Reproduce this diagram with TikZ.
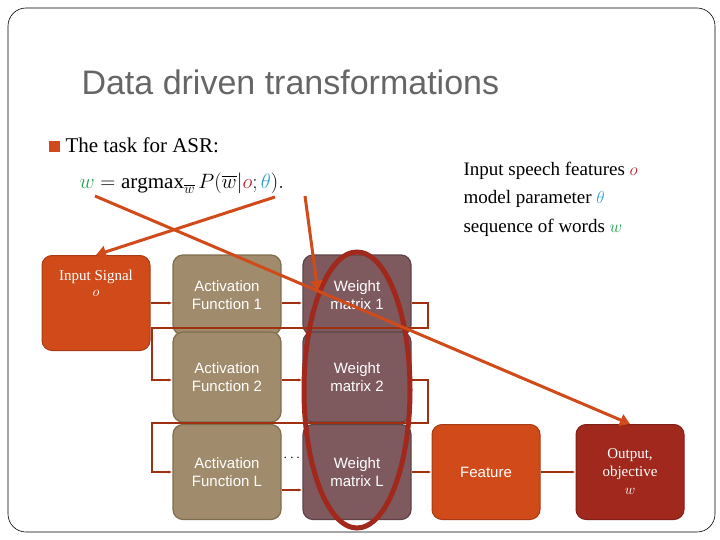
\documentclass[tikz,border=0pt]{standalone}
\usepackage{amsmath}
\usepackage{fontspec}
\setmainfont{Liberation Serif}
\setsansfont{Liberation Sans}
\usetikzlibrary{arrows.meta,shapes.geometric}
\definecolor{orng}{HTML}{D04A1A}
\definecolor{tan}{HTML}{A08C6C}
\definecolor{tanb}{HTML}{7F6D50}
\definecolor{plum}{HTML}{7E5A5E}
\definecolor{plumb}{HTML}{5E4246}
\definecolor{outc}{HTML}{A0281C}
\definecolor{lnk}{HTML}{A03010}
\definecolor{gw}{HTML}{20A050}
\definecolor{ro}{HTML}{C0202A}
\definecolor{bt}{HTML}{30A0D0}
\tikzset{
 box/.style={rounded corners=10pt,minimum width=108pt,align=center,text=white,font=\sffamily\fontsize{15}{18}\selectfont},
 afbox/.style={box,fill=tan,draw=tanb,line width=1.2pt},
 wbox/.style={box,fill=plum,draw=plumb,line width=1.2pt},
 obox/.style={box,fill=orng,draw=orng!80!black,line width=1pt,minimum height=95pt},
 link/.style={draw=lnk,line width=1.2pt,-{Latex[length=4pt]}},
 big/.style={draw=orng,line width=3pt,-{Triangle[length=10pt,width=12pt]}},
}
\begin{document}
\begin{tikzpicture}[x=1pt,y=-1pt]
\useasboundingbox (0,0) rectangle (720,540);
\draw[black,line width=0.6pt,rounded corners=18pt] (8,8) rectangle (715,532);
\node[anchor=west,text=black!60,font=\sffamily\fontsize{34}{38}\selectfont] (title) at (78,82) {Data driven transformations};
\node[fill=orng,minimum size=11pt,inner sep=0pt] (bul) at (54,147) {};
\node[anchor=west,font=\fontsize{21}{24}\selectfont] (task) at (62,145) {The task for ASR:};
\node[anchor=west,font=\fontsize{21}{24}\selectfont] (eq) at (76,183) {$\textcolor{gw}{w} = \operatorname*{argmax}_{\overline{w}} P(\overline{w}|\textcolor{ro}{o};\textcolor{bt}{\theta}).$};
\node[anchor=west,align=left,font=\fontsize{19}{28.5}\selectfont] (legend) at (460,199) {Input speech features $\textcolor{ro}{o}$\\model parameter $\textcolor{bt}{\theta}$\\sequence of words $\textcolor{gw}{w}$};
\node[obox,font=\fontsize{15}{16}\selectfont,anchor=north,text depth=40pt] (in) at (96,255) {Input Signal\\$o$};
\node[afbox,minimum height=80pt] (a1) at (227,295) {Activation\\Function 1};
\node[afbox,minimum height=90pt] (a2) at (227,377) {Activation\\Function 2};
\node[afbox,minimum height=95pt] (a3) at (227,472) {Activation\\Function L};
\node[wbox,minimum height=80pt] (w1) at (357,295) {Weight\\matrix 1};
\node[wbox,minimum height=90pt] (w2) at (357,377) {Weight\\matrix 2};
\node[wbox,minimum height=95pt] (w3) at (357,472) {Weight\\matrix L};
\node[obox] (feat) at (486,472) {Feature};
\node[obox,fill=outc,draw=outc!80!black,font=\fontsize{15}{18}\selectfont] (out) at (630,472) {Output,\\objective\\$w$};
\node[font=\fontsize{14}{14}\selectfont] (dots) at (293,458) {$\cdots$};
\coordinate (ya) at (0,303); \coordinate (yb) at (0,380); \coordinate (yc) at (0,490); \coordinate (yd) at (0,472);
\coordinate (l1a) at (428,303); \coordinate (l1b) at (428,328); \coordinate (l1c) at (152,328); \coordinate (l1d) at (152,380);
\coordinate (l2a) at (428,380); \coordinate (l2b) at (428,423); \coordinate (l2c) at (152,423); \coordinate (l2d) at (152,472);
\draw[link] (in.east |- ya) -- (a1.west |- ya);
\draw[link] (a1.east |- ya) -- (w1.west |- ya);
\draw[link] (w1.east |- ya) -- (l1a) -- (l1b) -- (l1c) -- (l1d) -- (a2.west |- l1d);
\draw[link] (a2.east |- yb) -- (w2.west |- yb);
\draw[link] (w2.east |- yb) -- (l2a) -- (l2b) -- (l2c) -- (l2d) -- (a3.west |- l2d);
\draw[link] (a3.east |- yc) -- (w3.west |- yc);
\draw[link] (w3.east |- yd) -- (feat.west |- yd);
\draw[link] (feat.east |- yd) -- (out.west |- yd);
\node[draw=outc,line width=5pt,ellipse,minimum width=106pt,minimum height=276pt] (ell) at (357,390) {};
\coordinate (sw) at (95,196); \coordinate (so) at (275,197); \coordinate (st) at (305,196);
\draw[big] (sw) -- (out.north);
\draw[big] (so) -- (in.north);
\draw[big] (st) -- (ell.north west);
\end{tikzpicture}
\end{document}
